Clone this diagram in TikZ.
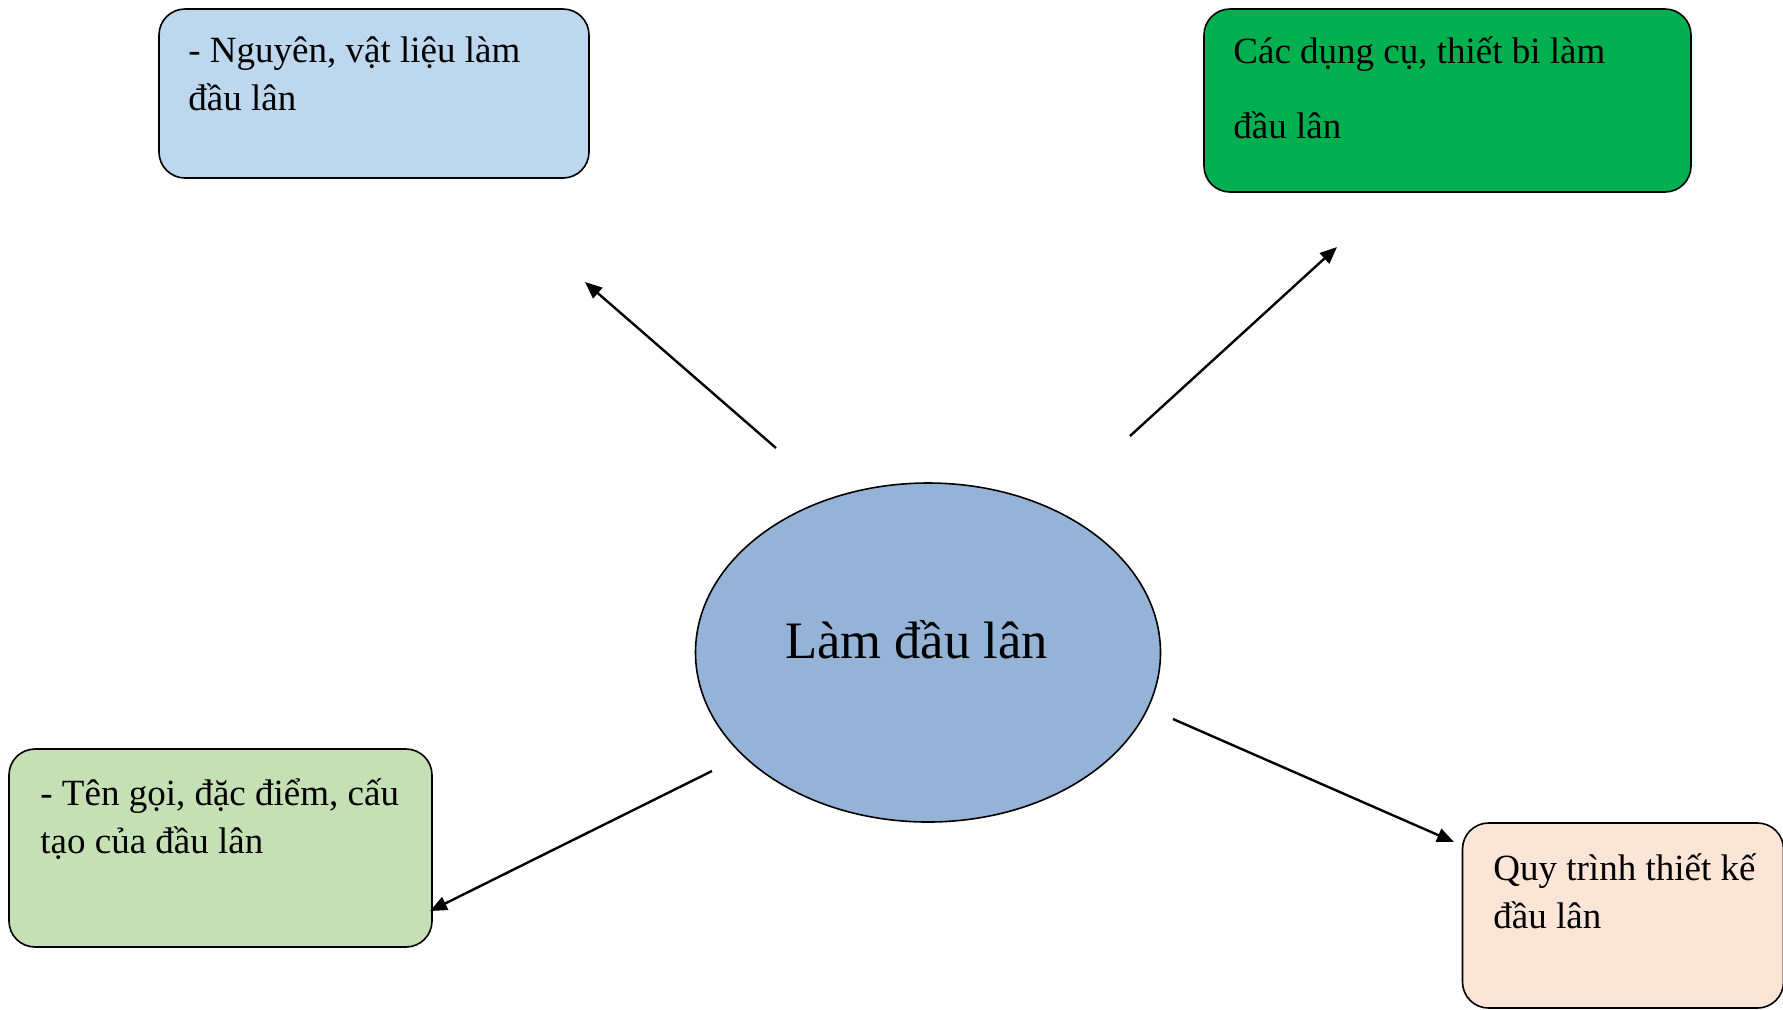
\documentclass[tikz,border=0pt]{standalone}
\usepackage{fontspec}
\setmainfont{Liberation Serif}
\usetikzlibrary{arrows.meta,shapes.geometric}

\definecolor{centerblue}{HTML}{95B3D7}
\definecolor{matblue}{HTML}{BDD7EE}
\definecolor{toolgreen}{HTML}{00B050}
\definecolor{namegreen}{HTML}{C5E0B4}
\definecolor{procpeach}{HTML}{FBE5D6}

\tikzstyle{myarrow}=[-{Triangle[length=8.5pt,width=7pt]}, line width=1.2pt]
\tikzstyle{mybox}=[rectangle, rounded corners=13pt, draw=black, line width=0.8pt, inner sep=0pt]
\tikzstyle{mytext}=[anchor=base west, align=left, inner sep=0pt, font=\fontsize{18.5}{24}\selectfont]

\begin{document}
\begin{tikzpicture}[x=0.5pt, y=-0.5pt]
	\useasboundingbox (0,0) rectangle (1783,1009);

	\node (center) at (928, 652.5) [ellipse, draw=black, line width=0.8pt, fill=centerblue, minimum width=232.5pt, minimum height=169.5pt] {};
	\node (centertext) at (916.5, 658) [anchor=base, inner sep=0pt, font=\fontsize{26.3}{30}\selectfont] {Làm đầu lân};

	% text nodes sit on the baseline of their last line
	\node (material) at (374, 93.5) [mybox, fill=matblue, minimum width=215pt, minimum height=84.5pt] {};
	\node (materialtext) at (188, 110) [mytext] {- Nguyên, vật liệu làm\\đầu lân};

	\node (tools) at (1447.5, 100.5) [mybox, fill=toolgreen, minimum width=243.5pt, minimum height=91.5pt] {};
	\node (toolstext) at (1233, 138) [mytext, font=\fontsize{18.5}{37.5}\selectfont] {Các dụng cụ, thiết bi làm\\đầu lân};

	\node (naming) at (220.5, 848) [mybox, fill=namegreen, minimum width=211.5pt, minimum height=99pt] {};
	\node (namingtext) at (40, 853) [mytext] {- Tên gọi, đặc điểm, cấu\\tạo của đầu lân};

	\node (process) at (1623, 915.5) [mybox, fill=procpeach, minimum width=160.5pt, minimum height=92.5pt] {};
	\node (processtext) at (1493, 928) [mytext] {Quy trình thiết kế\\đầu lân};

	% free arrow ends
	\coordinate (m0) at (776, 448);
	\coordinate (m1) at (585, 282);
	\coordinate (t0) at (1130, 436);
	\coordinate (t1) at (1337, 247);
	\coordinate (n0) at (712, 771);
	\coordinate (n1) at (430, 911);
	\coordinate (p0) at (1173, 719);
	\coordinate (p1) at (1454, 842);

	\draw[myarrow] (m0) -- (m1);
	\draw[myarrow] (t0) -- (t1);
	\draw[myarrow] (n0) -- (n1);
	\draw[myarrow] (p0) -- (p1);
\end{tikzpicture}
\end{document}
